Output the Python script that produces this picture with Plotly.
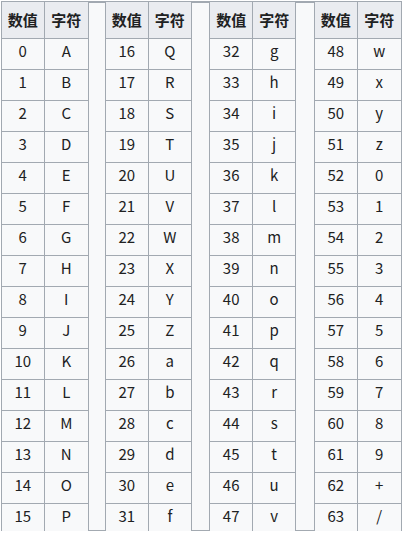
import plotly.graph_objects as go

# Base64 索引表：四组，每组16行
header_labels = ["数值", "字符"]

nums_1 = [0, 1, 2, 3, 4, 5, 6, 7, 8, 9, 10, 11, 12, 13, 14, 15]
chars_1 = ["A", "B", "C", "D", "E", "F", "G", "H", "I", "J", "K", "L", "M", "N", "O", "P"]

nums_2 = [16, 17, 18, 19, 20, 21, 22, 23, 24, 25, 26, 27, 28, 29, 30, 31]
chars_2 = ["Q", "R", "S", "T", "U", "V", "W", "X", "Y", "Z", "a", "b", "c", "d", "e", "f"]

nums_3 = [32, 33, 34, 35, 36, 37, 38, 39, 40, 41, 42, 43, 44, 45, 46, 47]
chars_3 = ["g", "h", "i", "j", "k", "l", "m", "n", "o", "p", "q", "r", "s", "t", "u", "v"]

nums_4 = [48, 49, 50, 51, 52, 53, 54, 55, 56, 57, 58, 59, 60, 61, 62, 63]
chars_4 = ["w", "x", "y", "z", "0", "1", "2", "3", "4", "5", "6", "7", "8", "9", "+", "/"]

groups = [(nums_1, chars_1), (nums_2, chars_2), (nums_3, chars_3), (nums_4, chars_4)]

W, H = 404, 535
ml, mr, mt, mb = 1, 3, 1, 4
plot_w = W - ml - mr
tab_w = 87
gap = (plot_w - 4 * tab_w) / 3

border = "#a2a9b1"
txt = "#202122"
fnt = "Noto Sans CJK SC"

fig = go.Figure()

# 外层表格：组间空白与外框（1px 表头当作上边线，下面一个大格）
fig.add_trace(go.Table(
    domain=dict(x=[0, 1], y=[0, 1]),
    header=dict(values=[""], height=1, fill_color=border,
                line=dict(color=border, width=1)),
    cells=dict(values=[[""]], height=528, fill_color="#f8f9fa",
               line=dict(color=border, width=1)),
    hoverinfo="skip",
))

for i, (nums, chars) in enumerate(groups):
    x0 = i * (tab_w + gap)
    fig.add_trace(go.Table(
        domain=dict(x=[x0 / plot_w, (x0 + tab_w) / plot_w], y=[0, 1]),
        columnwidth=[1, 1],
        header=dict(
            values=["<b>%s</b>" % h for h in header_labels],
            fill_color="#eaecf0",
            line=dict(color=border, width=1),
            align="center",
            height=33,
            font=dict(family=fnt, size=15, color=txt),
        ),
        cells=dict(
            values=[[str(n) for n in nums], chars],
            fill_color="#f8f9fa",
            line=dict(color=border, width=1),
            align="center",
            height=31,
            font=dict(family=fnt, size=15, color=txt),
        ),
    ))

fig.update_layout(
    width=W, height=H,
    margin=dict(l=ml, r=mr, t=mt, b=mb),
    paper_bgcolor="white",
    showlegend=False,
)

fig.write_html("out.html", config={"displayModeBar": False},
               post_script="document.body.style.margin='0';")
